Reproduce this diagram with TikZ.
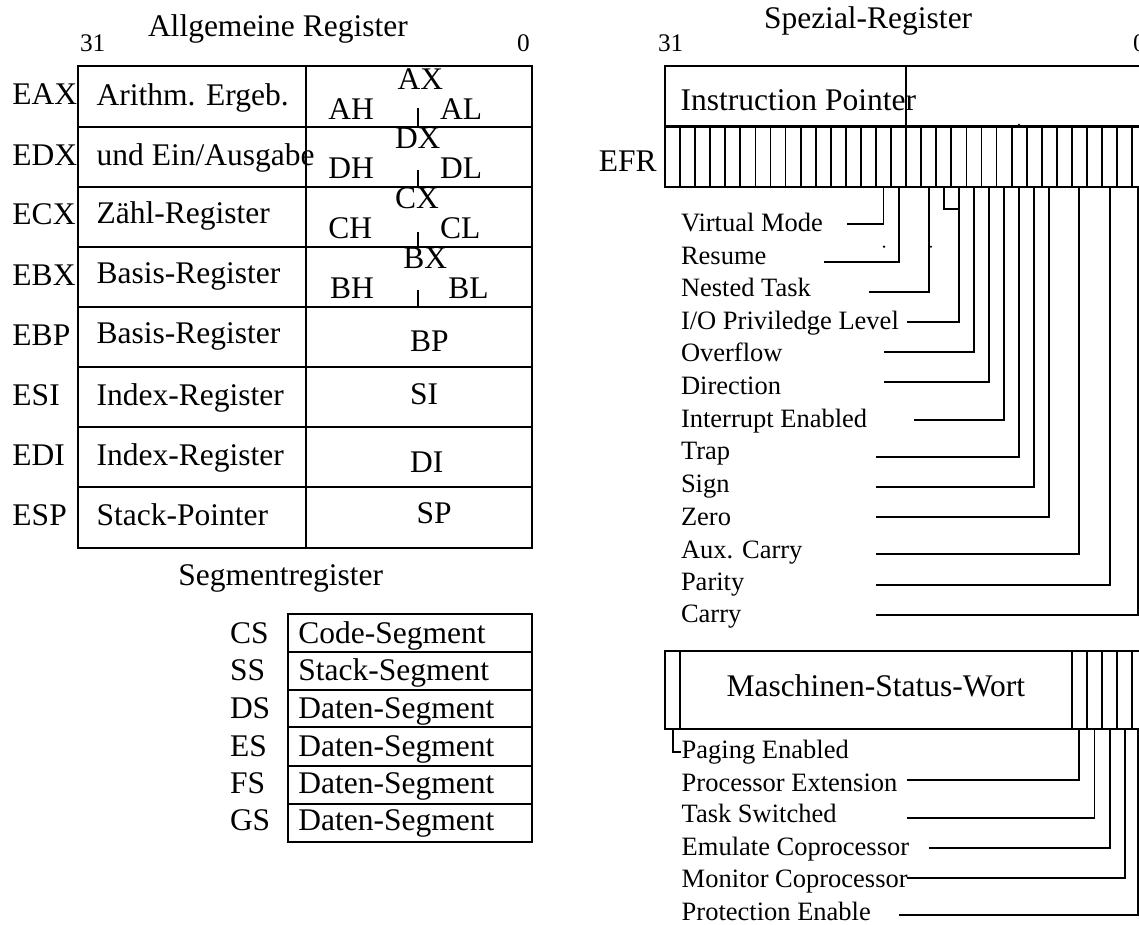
\documentclass[tikz,border=0pt]{standalone}
\usepackage{fontspec}
\setmainfont{Liberation Serif}
\begin{document}
\begin{tikzpicture}[x=1pt,y=-1pt,
  every node/.style={inner sep=0pt,outer sep=0pt},
  txtL/.style={font=\fontsize{31.5}{36}\selectfont,anchor=base west},
  txtS/.style={font=\fontsize{26.5}{30}\selectfont,anchor=base west},
  txtD/.style={font=\fontsize{25.3}{30}\selectfont,anchor=base west},
  frame/.style={line width=2.1pt},
  bitline/.style={line width=1.8pt},
  conn/.style={line width=1.9pt},
  speck/.style={fill=black}
]
\useasboundingbox (0,0) rectangle (1139,924);
\fill[white] (0,0) rectangle (1139,924);
\begin{scope}
\clip (0,0) rectangle (1139,924);

% ---------------- Allgemeine Register ----------------
\node[txtL] (tGen) at (148,36) {Allgemeine Register};
\node[txtD] (g31) at (80,51.7) {31};
\node[txtD] (g0) at (517,51.7) {0};

\draw[frame] (78,66) rectangle (532,548);
\foreach \yy in {127,187,247,307,367,427,487}
  \draw[frame] (78,\yy) -- (532,\yy);
\draw[frame] (306,66) -- (306,548);

\foreach \nm/\lab/\bl/\txt/\tb in {
  rA/EAX/104/{Arithm. Ergeb.}/105,
  rD/EDX/165/{und Ein/Ausgabe}/165,
  rC/ECX/224/{Zähl-Register}/223.3,
  rB/EBX/285/{Basis-Register}/283.3,
  rBP/EBP/345/{Basis-Register}/343.3,
  rSI/ESI/405/{Index-Register}/405,
  rDI/EDI/465/{Index-Register}/465,
  rSP/ESP/525/{Stack-Pointer}/525}
{
  \node[txtL] (\nm lab) at (12.5,\bl) {\lab};
  \node[txtL] (\nm txt) at (96.7,\tb) {\txt};
}

% 16-bit / 8-bit parts
\foreach \nm/\xt/\xx/\xy/\hl/\hx/\hy/\ll/\lx in {
  A/AX/397.7/89/AH/328.3/119/AL/440,
  D/DX/395/148.3/DH/328.3/178.3/DL/440,
  C/CX/395/208.3/CH/328.3/238.3/CL/440,
  B/BX/403.3/268.3/BH/330/298.3/BL/448.3}
{
  \node[txtL] (x\nm) at (\xx,\xy) {\xt};
  \node[txtL] (h\nm) at (\hx,\hy) {\hl};
  \node[txtL] (l\nm) at (\lx,\hy) {\ll};
}
\coordinate (tAt) at (417.7,108.3); \coordinate (tAb) at (417.7,127);
\coordinate (tDt) at (417.7,170);   \coordinate (tDb) at (417.7,187);
\coordinate (tCt) at (417.7,231.7); \coordinate (tCb) at (417.7,247);
\coordinate (tBt) at (417.7,290);   \coordinate (tBb) at (417.7,307);
\draw[bitline] (tAt) -- (tAb);
\draw[bitline] (tDt) -- (tDb);
\draw[bitline] (tCt) -- (tCb);
\draw[bitline] (tBt) -- (tBb);

\node[txtL] (xBP) at (410,351.7) {BP};
\node[txtL] (xSI) at (410,404.3) {SI};
\node[txtL] (xDI) at (410,472.7) {DI};
\node[txtL] (xSP) at (416.7,523.3) {SP};

% ---------------- Segmentregister ----------------
\node[txtL] (tSeg) at (178.3,585) {Segmentregister};
\draw[frame] (288.3,614.3) rectangle (531.7,842.3);
\foreach \yy in {651.7,690,727.3,765.7,804}
  \draw[frame] (288.3,\yy) -- (531.7,\yy);
\foreach \nm/\lab/\bl/\txt in {
  sCS/CS/643.3/Code-Segment,
  sSS/SS/680/Stack-Segment,
  sDS/DS/718.3/Daten-Segment,
  sES/ES/756/Daten-Segment,
  sFS/FS/793.3/Daten-Segment,
  sGS/GS/830.7/Daten-Segment}
{
  \node[txtL] (\nm lab) at (230,\bl) {\lab};
  \node[txtL] (\nm txt) at (298.3,\bl) {\txt};
}

% ---------------- Spezial-Register ----------------
\node[txtL] (tSpec) at (764,28.3) {Spezial-Register};
\node[txtD] (s31) at (658,51.7) {31};
\node[txtD] (s0) at (1133,51.7) {0};

\draw[frame] (665,66) rectangle (1147.24,126.5);
\draw[frame] (906.1,66) -- (906.1,126.5);
\node[txtL] (ip) at (680.7,110) {Instruction Pointer};

\node[txtL] (efr) at (598.8,171.7) {EFR};
\draw[frame] (665,126.5) rectangle (1147.24,187);
\foreach \k in {1,...,31}
  \draw[bitline] ({665+15.07*\k},126.5) -- ({665+15.07*\k},187);

% flag labels
\foreach \nm/\txt/\bl in {
  fVM/Virtual Mode/231.7,
  fRF/Resume/264.3,
  fNT/Nested Task/296.7,
  fIO/I\slash O Priviledge Level/329,
  fOF/Overflow/361.7,
  fDF/Direction/394.3,
  fIF/Interrupt Enabled/427.3,
  fTF/Trap/459.3,
  fSF/Sign/492.7,
  fZF/Zero/525,
  fAF/Aux. Carry/558.3,
  fPF/Parity/590,
  fCF/Carry/622.3}
  \node[txtS] (\nm) at (681,\bl) {\txt};

% flag connectors: bit cell bottom -> label line end
\foreach \nm/\bx/\ly/\ex in {
  VM/883.5/224/846.7,
  RF/898.6/261.7/824,
  NT/928.7/291.7/869.3,
  IO/958.8/321.7/906.7,
  OF/973.9/352.3/884,
  DF/989/382.3/884,
  IF/1004.1/420/914,
  TF/1019.2/457.3/876,
  SF/1034.3/487.3/876,
  ZF/1049.3/517.3/876,
  AF/1079.4/554.3/876,
  PF/1109.6/585/876,
  CF/1138.2/615/876}
{
  \coordinate (b\nm) at (\bx,187);
  \coordinate (e\nm) at (\ex,\ly);
  \draw[conn] (b\nm) |- (e\nm);
}
% IOPL: two bits joined
\coordinate (bIO2) at (943.8,187);
\coordinate (jIO) at (958.8,209.3);
\draw[conn] (bIO2) |- (jIO);

% small specks
\fill[speck] (1019,124.8) circle (1.2);
\fill[speck] (884,246.7) circle (1.3);
\fill[speck] (931,246.7) circle (1.1);

% ---------------- Maschinen-Status-Wort ----------------
\draw[frame] (665,651) rectangle (1147.24,729);
\foreach \k in {1,27,28,29,30,31}
  \draw[bitline] ({665+15.07*\k},651) -- ({665+15.07*\k},729);
\node[txtL] (msw) at (726.7,696.7) {Maschinen-Status-Wort};

\foreach \nm/\txt/\bl in {
  mPG/Paging Enabled/758,
  mET/Processor Extension/791,
  mTS/Task Switched/822.3,
  mEM/Emulate Coprocessor/855.7,
  mMP/Monitor Coprocessor/887.7,
  mPE/Protection Enable/920}
  \node[txtS] (\nm) at (681.7,\bl) {\txt};

\coordinate (bPG) at (672.8,729);
\coordinate (ePG) at (680.5,751.7);
\draw[bitline] (bPG) |- (ePG);

\foreach \nm/\bx/\ly/\ex in {
  ET/1079.4/780/906.7,
  TS/1094.5/817.7/906.7,
  EM/1109.6/848.3/929.3,
  MP/1124.6/877.7/906.7,
  PE/1138.2/915/899.3}
{
  \coordinate (m\nm b) at (\bx,729);
  \coordinate (m\nm e) at (\ex,\ly);
  \draw[conn] (m\nm b) |- (m\nm e);
}
\end{scope}
\end{tikzpicture}
\end{document}
